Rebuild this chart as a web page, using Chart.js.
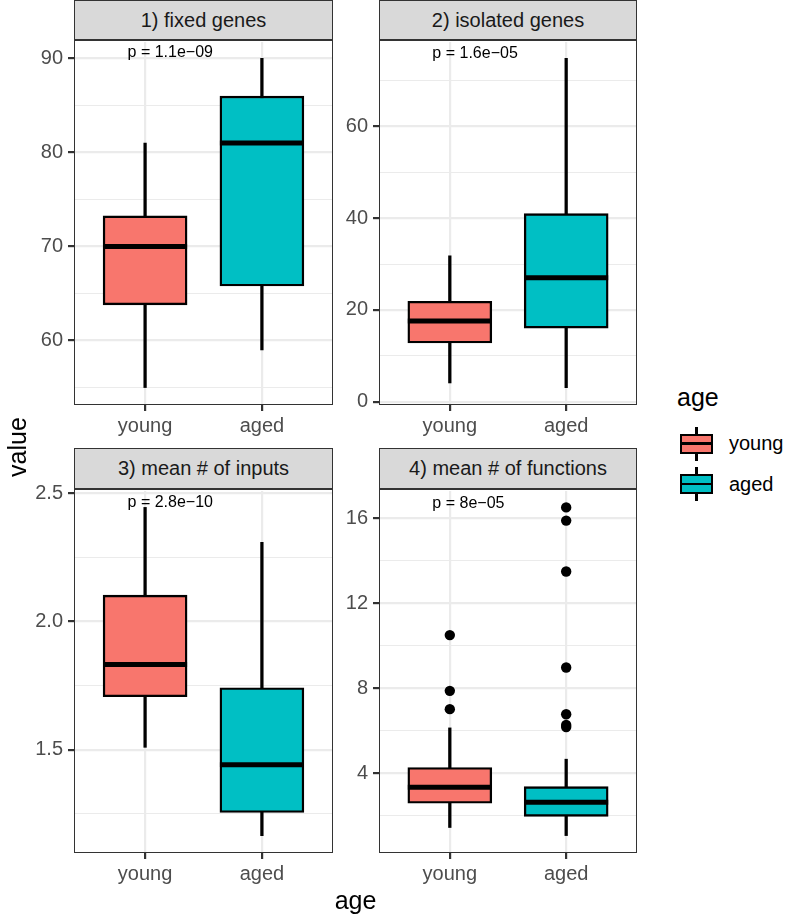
<!DOCTYPE html>
<html>
<head>
<meta charset="utf-8">
<script src="https://cdn.jsdelivr.net/npm/chart.js@4.4.1/dist/chart.umd.min.js"></script>
<style>
  html, body { margin: 0; padding: 0; background: #fff; }
  body {
    width: 787px; height: 921px; position: relative; overflow: hidden;
    font-family: "Liberation Sans", Arial, Helvetica, sans-serif;
  }
  canvas { position: absolute; }
  .strip {
    position: absolute; box-sizing: border-box; background: #d9d9d9;
    border: 1.5px solid #333; color: #1a1a1a; font-size: 20px;
    display: flex; align-items: center; justify-content: center; white-space: nowrap;
  }
  .frame { position: absolute; box-sizing: border-box; border: 1.5px solid #333; pointer-events: none; }
  .title { position: absolute; color: #000; font-size: 25px; line-height: 28px; white-space: nowrap; }
  .lg-label { position: absolute; color: #000; font-size: 20px; line-height: 20px; white-space: nowrap; }
  .key { position: absolute; width: 33px; height: 34px; }
  .key .wh { position: absolute; left: 15.3px; top: 0; width: 2.4px; height: 34px; background: #000; }
  .key .bx { position: absolute; left: 0; top: 7px; width: 33px; height: 20px; box-sizing: border-box; border: 2.4px solid #000; }
  .key .md { position: absolute; left: 0; top: 15.8px; width: 33px; height: 2.4px; background: #000; }
</style>
</head>
<body>
<script>
/* ─── Data ─── */
const groups = ["young", "aged"];
const groupColors = ["#F8766D", "#00BFC4"];

const panelTitles = ["1) fixed genes", "2) isolated genes", "3) mean # of inputs", "4) mean # of functions"];
const pLabels = ["p = 1.1e\u221209", "p = 1.6e\u221205", "p = 2.8e\u221210", "p = 8e\u221205"];

// [lower whisker, Q1, median, Q3, upper whisker]
const fixedYoung = [55.0, 63.8, 70.0, 73.25, 81.0];
const fixedAged = [59.0, 65.8, 81.0, 86.0, 90.0];
const isolatedYoung = [4.1, 12.8, 17.6, 21.9, 31.8];
const isolatedAged = [3.1, 16.05, 27.0, 41.0, 74.8];
const inputsYoung = [1.51, 1.707, 1.833, 2.103, 2.445];
const inputsAged = [1.166, 1.256, 1.442, 1.742, 2.309];
const functionsYoung = [1.46, 2.60, 3.35, 4.28, 6.14];
const functionsAged = [1.08, 1.98, 2.65, 3.38, 4.67];

// outliers (only panel 4 has them)
const functionsYoungOutliers = [7.02, 7.88, 10.5];
const functionsAgedOutliers = [6.18, 6.28, 6.78, 8.98, 13.49, 15.88, 16.5];

// y ticks
const fixedTicks = [60, 70, 80, 90];
const fixedMinor = [55, 65, 75, 85];
const isolatedTicks = [0, 20, 40, 60];
const isolatedMinor = [10, 30, 50, 70];
const inputsTicks = [1.5, 2.0, 2.5];
const inputsTickLabels = ["1.5", "2.0", "2.5"];
const inputsMinor = [1.25, 1.75, 2.25];
const functionsTicks = [4, 8, 12, 16];
const functionsMinor = [2, 6, 10, 14];

// where the p-value labels sit (data units)
const pLabelX = -0.15;
const pLabelY = [90.6, 75.9, 2.464, 16.7];

const panels = [
  { title: panelTitles[0], p: pLabels[0], pY: pLabelY[0], boxes: [fixedYoung, fixedAged], outliers: [[], []],
    ticks: fixedTicks, labels: fixedTicks.map(String), minor: fixedMinor },
  { title: panelTitles[1], p: pLabels[1], pY: pLabelY[1], boxes: [isolatedYoung, isolatedAged], outliers: [[], []],
    ticks: isolatedTicks, labels: isolatedTicks.map(String), minor: isolatedMinor },
  { title: panelTitles[2], p: pLabels[2], pY: pLabelY[2], boxes: [inputsYoung, inputsAged], outliers: [[], []],
    ticks: inputsTicks, labels: inputsTickLabels, minor: inputsMinor },
  { title: panelTitles[3], p: pLabels[3], pY: pLabelY[3], boxes: [functionsYoung, functionsAged],
    outliers: [functionsYoungOutliers, functionsAgedOutliers],
    ticks: functionsTicks, labels: functionsTicks.map(String), minor: functionsMinor },
];

/* ─── Layout ─── */
const FONT = '"Liberation Sans", Arial, Helvetica, sans-serif';
const AXIS_W = 70;   // room for y tick labels
const AXIS_H = 45;   // room for x tick labels
const PAD_T = 15;
const frames = [
  { left: 75, top: 40, w: 257, h: 364, strip: 0 },
  { left: 380, top: 40, w: 256, h: 364, strip: 0 },
  { left: 75, top: 489, w: 257, h: 363, strip: 448 },
  { left: 380, top: 489, w: 256, h: 363, strip: 448 },
];

const pLabelPlugin = {
  id: "pLabel",
  afterDatasetsDraw(chart, args, opts) {
    const { ctx, scales: { x, y } } = chart;
    ctx.save();
    ctx.font = `16px ${FONT}`;
    ctx.fillStyle = "#000";
    ctx.textAlign = "left";
    ctx.textBaseline = "middle";
    ctx.fillText(opts.text, x.getPixelForValue(opts.x), y.getPixelForValue(opts.y));
    ctx.restore();
  },
};

const addDiv = (cls, style, text) => {
  const d = document.createElement("div");
  d.className = cls;
  Object.assign(d.style, style);
  if (text !== undefined) d.textContent = text;
  document.body.appendChild(d);
  return d;
};

const makePanel = (spec, g) => {
  const cv = document.createElement("canvas");
  const W = AXIS_W + g.w;
  const H = PAD_T + g.h + AXIS_H;
  cv.width = W; cv.height = H;
  Object.assign(cv.style, { left: (g.left - AXIS_W) + "px", top: (g.top - PAD_T) + "px", width: W + "px", height: H + "px" });
  document.body.appendChild(cv);

  const vals = spec.boxes.flatMap((b) => [b[0], b[4]]).concat(spec.outliers.flat());
  const lo = Math.min(...vals);
  const hi = Math.max(...vals);
  const pad = (hi - lo) * 0.05;
  const minor = new Set(spec.minor);
  const isMinor = (c) => !!(c && c.tick && minor.has(c.tick.value));

  new Chart(cv, {
    type: "bar",
    data: {
      datasets: [
        { // whiskers
          type: "bar",
          data: spec.boxes.map((b, i) => ({ x: i, y: [b[0], b[4]] })),
          backgroundColor: "#000", borderWidth: 0, barThickness: 2.6, grouped: false, order: 3,
        },
        { // boxes
          type: "bar",
          data: spec.boxes.map((b, i) => ({ x: i, y: [b[1], b[3]] })),
          backgroundColor: groupColors, borderColor: "#000", borderWidth: 2.4, borderSkipped: false,
          barThickness: 84, grouped: false, order: 2,
        },
        { // medians
          type: "scatter",
          data: spec.boxes.map((b, i) => ({ x: i, y: b[2] })),
          pointStyle: "line", pointRadius: 42, pointBorderWidth: 5, borderWidth: 5,
          pointBorderColor: "#000", borderColor: "#000", order: 1,
        },
        { // outliers
          type: "scatter",
          data: spec.outliers.flatMap((o, i) => o.map((v) => ({ x: i, y: v }))),
          pointRadius: 5.2, pointBackgroundColor: "#000", backgroundColor: "#000", pointBorderWidth: 0, order: 0,
        },
      ],
    },
    options: {
      responsive: false,
      animation: false,
      events: [],
      devicePixelRatio: 1,
      layout: { autoPadding: false, padding: { top: PAD_T, left: 0, right: 0, bottom: 0 } },
      plugins: {
        legend: { display: false },
        tooltip: { enabled: false },
        pLabel: { text: spec.p, x: pLabelX, y: spec.pY },
      },
      scales: {
        x: {
          type: "linear", min: -0.6, max: 1.6, offset: false, bounds: "data",
          afterBuildTicks: (s) => { s.ticks = groups.map((_, i) => ({ value: i })); },
          afterFit: (s) => { s.height = AXIS_H; },
          ticks: {
            callback: (v) => groups[v], color: "#4d4d4d", font: { family: FONT, size: 20 },
            padding: 3, maxRotation: 0, autoSkip: false,
          },
          grid: { offset: false, color: "#ebebeb", lineWidth: 2.2, tickColor: "#333", tickWidth: 2.2, tickLength: 7 },
          border: { display: false },
        },
        y: {
          type: "linear", min: lo - pad, max: hi + pad, beginAtZero: false, bounds: "data",
          afterBuildTicks: (s) => { s.ticks = spec.ticks.concat(spec.minor).map((v) => ({ value: v })); },
          afterFit: (s) => { s.width = AXIS_W; },
          ticks: {
            callback: (v) => { const k = spec.ticks.indexOf(v); return k < 0 ? "" : spec.labels[k]; },
            color: "#4d4d4d", font: { family: FONT, size: 20 }, padding: 5, autoSkip: false,
          },
          grid: {
            color: "#ebebeb",
            lineWidth: (c) => (isMinor(c) ? 1.1 : 2.2),
            tickColor: (c) => (isMinor(c) ? "rgba(0,0,0,0)" : "#333"),
            tickWidth: 2.2, tickLength: 7,
          },
          border: { display: false },
        },
      },
    },
    plugins: [pLabelPlugin],
  });

  // strip + panel border
  addDiv("strip", {
    left: (g.left - 0.75) + "px", top: g.strip + "px",
    width: (g.w + 1.5) + "px", height: (g.top - g.strip + 0.75) + "px",
  }, spec.title);
  addDiv("frame", {
    left: (g.left - 0.75) + "px", top: (g.top - 0.75) + "px",
    width: (g.w + 1.5) + "px", height: (g.h + 1.5) + "px",
  });
};

panels.forEach((p, i) => makePanel(p, frames[i]));

/* ─── Axis titles ─── */
addDiv("title", { left: (355.5 - 50) + "px", top: (902 - 16) + "px", width: "100px", textAlign: "center" }, "age");
addDiv("title", {
  left: (16.5 - 50) + "px", top: (447 - 14) + "px", width: "100px", textAlign: "center",
  transform: "rotate(-90deg)", transformOrigin: "50% 50%",
}, "value");

/* ─── Legend ─── */
addDiv("title", { left: "677px", top: "383px" }, "age");
const legendRows = [{ top: 426.5, label: 433 }, { top: 467, label: 474 }];
groups.forEach((name, i) => {
  const k = addDiv("key", { left: "680px", top: legendRows[i].top + "px" });
  const wh = document.createElement("div"); wh.className = "wh"; k.appendChild(wh);
  const bx = document.createElement("div"); bx.className = "bx"; bx.style.background = groupColors[i]; k.appendChild(bx);
  const md = document.createElement("div"); md.className = "md"; k.appendChild(md);
  addDiv("lg-label", { left: "729px", top: legendRows[i].label + "px" }, name);
});
</script>
</body>
</html>
